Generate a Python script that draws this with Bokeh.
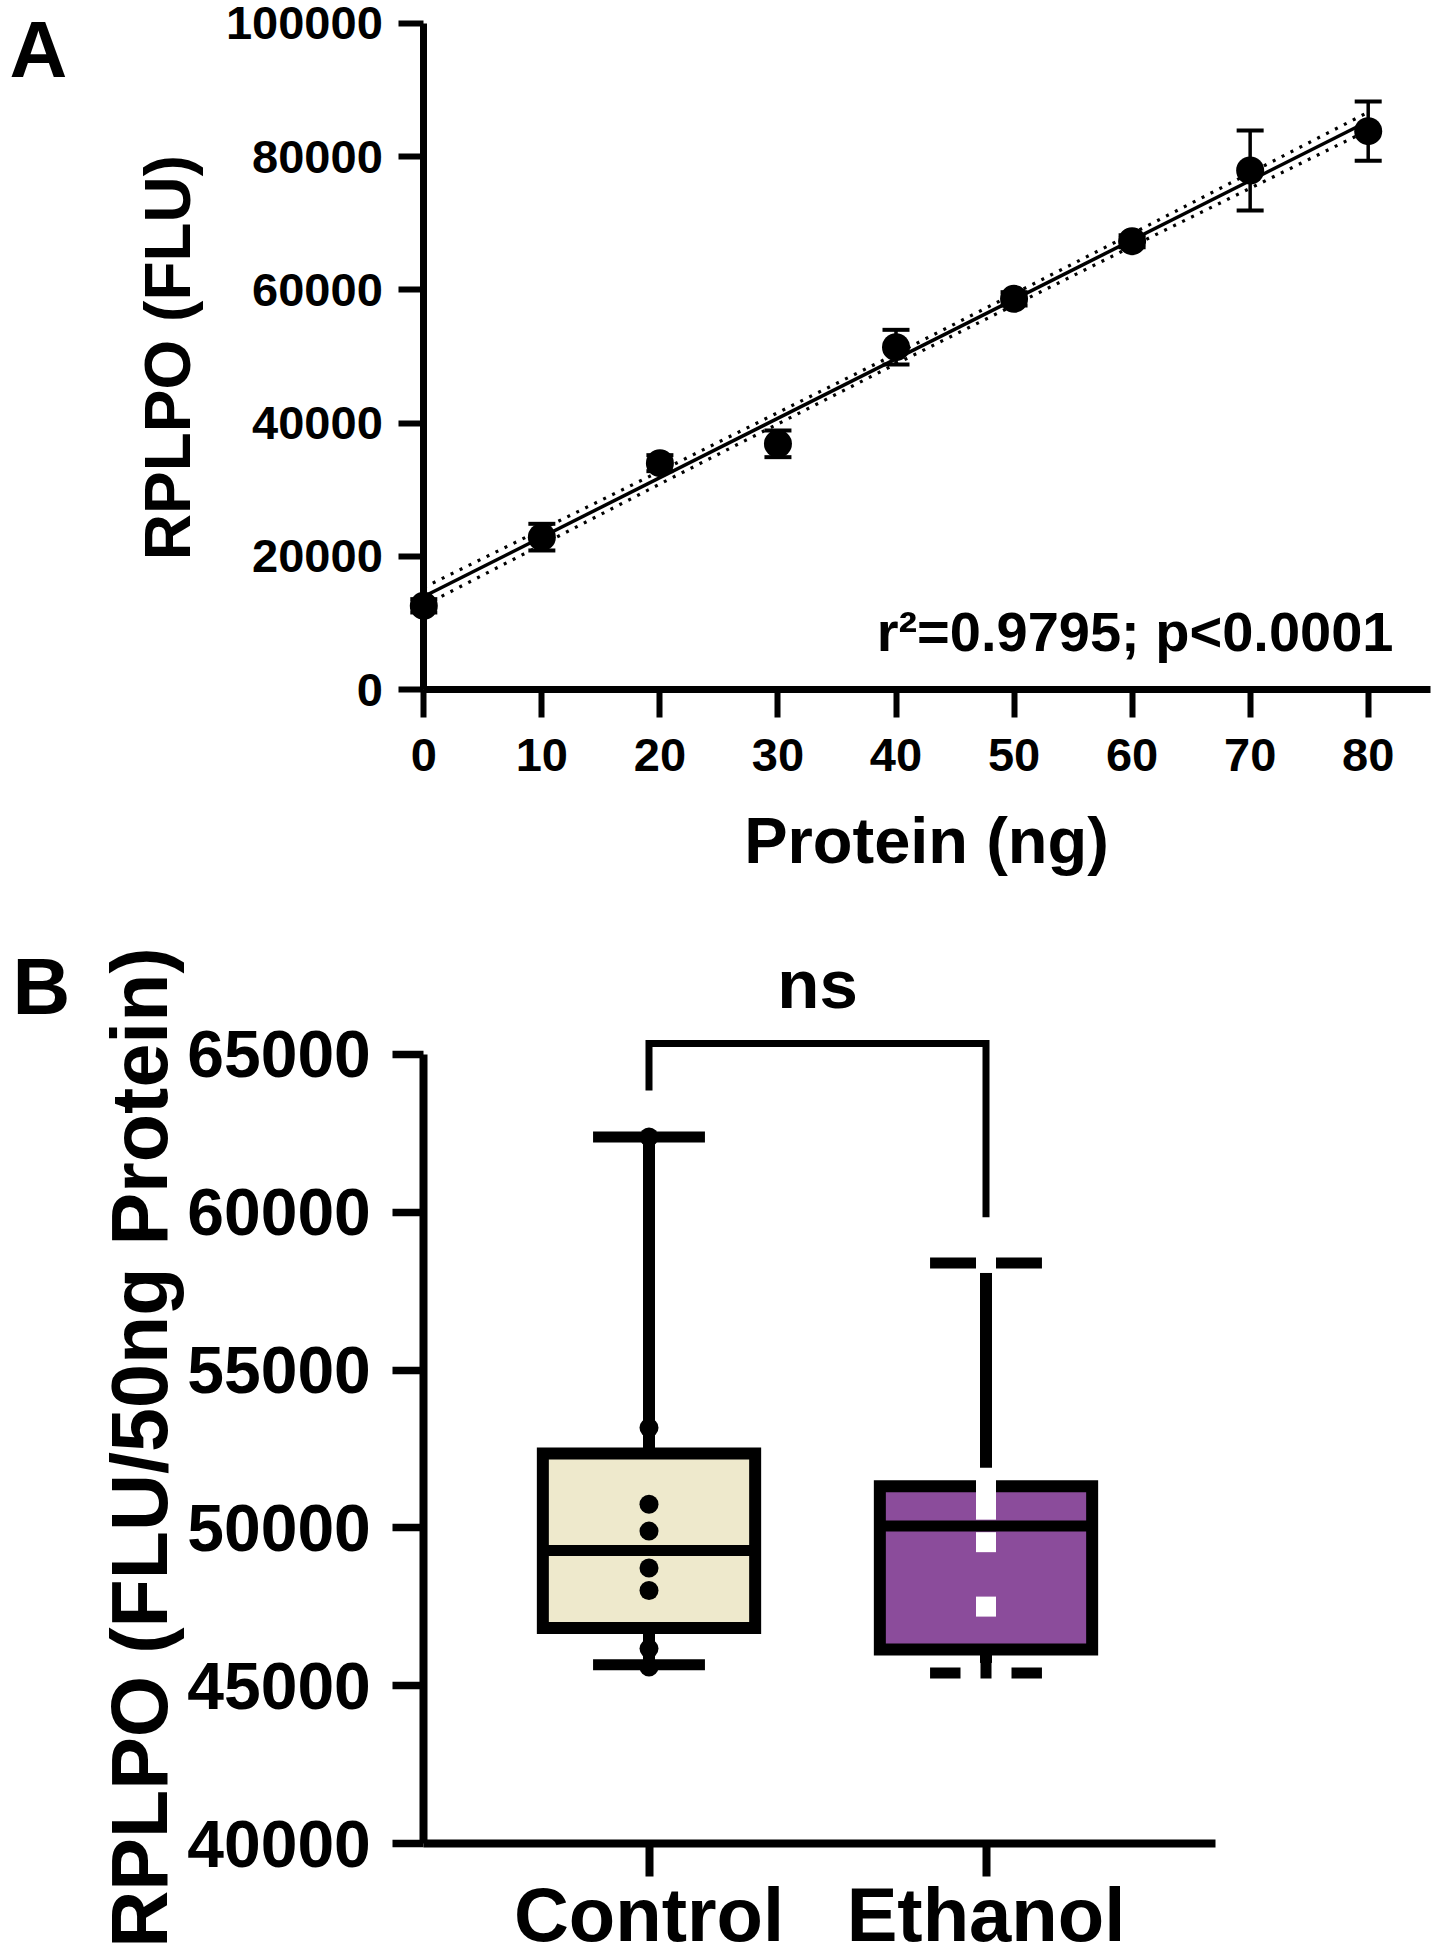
import math
from bokeh.plotting import figure
from bokeh.layouts import column
from bokeh.models import (Range1d, LinearAxis, FixedTicker, PrintfTickFormatter,
                          Label, Whisker, TeeHead, ColumnDataSource)
from bokeh.embed import file_html
from bokeh.resources import INLINE

# ---------------- Panel A data ----------------
protein_ng = [0, 10, 20, 30, 40, 50, 60, 70, 80]
rplpo_mean = [12600, 22900, 34000, 36900, 51400, 58650, 67300, 77900, 83800]
rplpo_sd = [1000, 2000, 1200, 2000, 2600, 1000, 900, 6000, 4450]
fit_x = [0, 80]
fit_y = [14000, 85300]
band_x = [0, 20, 40, 60, 80]
band_upper = [15350, 32780, 50400, 68430, 86650]
band_lower = [12650, 30880, 48900, 66530, 83950]
a_x_ticks = [0, 10, 20, 30, 40, 50, 60, 70, 80]
a_y_ticks = [0, 20000, 40000, 60000, 80000, 100000]
a_stats = "r\u00b2=0.9795; p<0.0001"

# ---------------- Panel B data ----------------
groups = ["Control", "Ethanol"]
group_pos = [1, 2]
box_q1 = [46830, 46150]
box_median = [49290, 50060]
box_q3 = [52360, 51320]
whisker_low = [45670, 45410]
whisker_high = [62380, 58390]
control_values = [62380, 53170, 50750, 49900, 48730, 48020, 46180, 45600]
ethanol_values = [58390, 51590, 51090, 50580, 49550, 47510, 45410, 45410]
ethanol_spread = [0, 0, 0, 0, 0, 0, -0.046, 0.046]
b_y_ticks = [40000, 45000, 50000, 55000, 60000, 65000]
bracket_top = 65340
bracket_left_end = 63850
bracket_right_end = 59840
sig_text = "ns"

# ---------------- styling / geometry ----------------
FONT = "Liberation Sans"
BLACK = "#000000"
BEIGE = "#EEE9CC"
PURPLE = "#8B4C9B"

PAGE = 0
W = 1437
HA = 900
HB = 1048
BASE_SHIFT = 0.34   # renderer places alphabetic baseline ~0.34 em below anchor

# panel A pixel mapping (page pixels)
A_X0, A_XS = 423.3, 11.805
A_Y0, A_YS = 689.3, 0.006666


def ax(px):
    return (px - A_X0) / A_XS


def ay(py):
    return (A_Y0 - py) / A_YS


# panel B pixel mapping (page pixels)
B_X1, B_XS = 648.5, 337.0
B_Y40, B_YS = 1843.3, 0.031584
B_TOP = PAGE + HA


def bx(px):
    return 1 + (px - B_X1) / B_XS


def by(py):
    return 40000 + (B_Y40 - py) / B_YS


def style_axis(axis, line_w, tick_w, tick_out, font_px, standoff):
    axis.axis_line_width = line_w
    axis.axis_line_color = BLACK
    axis.axis_line_cap = "butt"
    axis.major_tick_line_width = tick_w
    axis.major_tick_line_color = BLACK
    axis.major_tick_in = 0
    axis.major_tick_out = tick_out
    axis.minor_tick_in = 0
    axis.minor_tick_out = 0
    axis.minor_tick_line_color = None
    axis.major_label_text_font = FONT
    axis.major_label_text_font_style = "bold"
    axis.major_label_text_font_size = f"{font_px}px"
    axis.major_label_text_color = BLACK
    axis.major_label_standoff = standoff


def htext(p, fx, fy, px, base_py, text, size, align="left"):
    """horizontal text; base_py = wanted baseline (page px)"""
    p.add_layout(Label(x=fx(px), y=fy(base_py - BASE_SHIFT * size), text=text,
                       text_font=FONT, text_font_style="bold",
                       text_font_size=f"{size}px", text_color=BLACK,
                       text_align=align, text_baseline="alphabetic"))


def vtext(p, fx, fy, base_px, center_py, text, size):
    """text rotated 90deg; base_px = wanted baseline x (page px)"""
    p.add_layout(Label(x=fx(base_px - BASE_SHIFT * size), y=fy(center_py), text=text,
                       text_font=FONT, text_font_style="bold",
                       text_font_size=f"{size}px", text_color=BLACK,
                       text_align="center", text_baseline="alphabetic",
                       angle=math.pi / 2))


# ================= Panel A =================
pA = figure(width=W, height=HA, title=None,
            x_range=Range1d(ax(PAGE), ax(PAGE + W)),
            y_range=Range1d(ay(PAGE + HA), ay(PAGE)),
            x_axis_type=None, y_axis_type=None,
            toolbar_location=None, output_backend="svg", min_border=0)
pA.outline_line_color = None
pA.background_fill_color = "white"
pA.border_fill_color = "white"

ya = LinearAxis(fixed_location=0, bounds=(0, 100000),
                ticker=FixedTicker(ticks=a_y_ticks),
                formatter=PrintfTickFormatter(format="%d"))
style_axis(ya, 7, 6, 25, 47, 16)
pA.add_layout(ya, "left")

xa = LinearAxis(fixed_location=0, bounds=(0, ax(1430)),
                ticker=FixedTicker(ticks=a_x_ticks),
                formatter=PrintfTickFormatter(format="%d"))
style_axis(xa, 7, 6, 28, 47, 21)
pA.add_layout(xa, "below")

err_src = ColumnDataSource(dict(
    x=protein_ng,
    upper=[m + s for m, s in zip(rplpo_mean, rplpo_sd)],
    lower=[m - s for m, s in zip(rplpo_mean, rplpo_sd)],
))
pA.add_layout(Whisker(source=err_src, base="x", upper="upper", lower="lower",
                      line_width=3.5, line_color=BLACK,
                      upper_head=TeeHead(size=27, line_width=4, line_color=BLACK),
                      lower_head=TeeHead(size=27, line_width=4, line_color=BLACK)))

pA.line(band_x, band_upper, line_width=3.2, line_color=BLACK, line_dash="3 7")
pA.line(band_x, band_lower, line_width=3.2, line_color=BLACK, line_dash="3 7")
pA.line(fit_x, fit_y, line_width=3.5, line_color=BLACK)
pA.scatter(protein_ng, rplpo_mean, size=28, marker="circle",
           fill_color=BLACK, line_color=None)

htext(pA, ax, ay, 9, 76, "A", 80)
vtext(pA, ax, ay, 189, 357, "RPLPO (FLU)", 64)
htext(pA, ax, ay, 926, 862, "Protein (ng)", 65, align="center")
htext(pA, ax, ay, 1393, 650, a_stats, 56, align="right")

# ================= Panel B =================
pB = figure(width=W, height=HB, title=None,
            x_range=Range1d(bx(PAGE), bx(PAGE + W)),
            y_range=Range1d(by(B_TOP + HB), by(B_TOP)),
            x_axis_type=None, y_axis_type=None,
            toolbar_location=None, output_backend="svg", min_border=0)
pB.outline_line_color = None
pB.background_fill_color = "white"
pB.border_fill_color = "white"

yb = LinearAxis(fixed_location=bx(423.3), bounds=(40000, 65000),
                ticker=FixedTicker(ticks=b_y_ticks),
                formatter=PrintfTickFormatter(format="%d"))
style_axis(yb, 8, 7.5, 31, 66, 22)
pB.add_layout(yb, "left")

xb = LinearAxis(fixed_location=40000, bounds=(bx(423.3), bx(1214.5)),
                ticker=FixedTicker(ticks=group_pos),
                major_label_overrides={p: g for p, g in zip(group_pos, groups)})
style_axis(xb, 8, 8, 33, 76, -5)
pB.add_layout(xb, "below")

BOX_HALF = 0.315
CAP_HALF = 0.166

# whiskers
pB.segment(x0=group_pos, y0=box_q3, x1=group_pos, y1=whisker_high,
           line_width=12, line_color=BLACK)
pB.segment(x0=group_pos, y0=whisker_low, x1=group_pos, y1=box_q1,
           line_width=12, line_color=BLACK)
pB.segment(x0=[g - CAP_HALF for g in group_pos], y0=whisker_high,
           x1=[g + CAP_HALF for g in group_pos], y1=whisker_high,
           line_width=11, line_color=BLACK)
pB.segment(x0=[g - CAP_HALF for g in group_pos], y0=whisker_low,
           x1=[g + CAP_HALF for g in group_pos], y1=whisker_low,
           line_width=11, line_color=BLACK)
# boxes
pB.quad(left=[g - BOX_HALF for g in group_pos], right=[g + BOX_HALF for g in group_pos],
        bottom=box_q1, top=box_q3, fill_color=[BEIGE, PURPLE],
        line_color=BLACK, line_width=12, line_join="miter")
pB.segment(x0=[g - BOX_HALF for g in group_pos], y0=box_median,
           x1=[g + BOX_HALF for g in group_pos], y1=box_median,
           line_width=11, line_color=BLACK)
# individual values
pB.scatter([group_pos[0]] * len(control_values), control_values, size=19,
           marker="circle", fill_color=BLACK, line_color=None)
pB.scatter([group_pos[1] + s for s in ethanol_spread], ethanol_values, size=20,
           marker="square", fill_color="white", line_color=None)
# significance bracket
pB.line([group_pos[0], group_pos[0], group_pos[1], group_pos[1]],
        [bracket_left_end, bracket_top, bracket_top, bracket_right_end],
        line_width=7, line_color=BLACK, line_join="miter")

htext(pB, bx, by, 817, 1007, sig_text, 69, align="center")
htext(pB, bx, by, 12, 1013, "B", 80)
vtext(pB, bx, by, 166, 1447, "RPLPO (FLU/50ng Protein)", 79)

layout = column(pA, pB, spacing=0)
open("out.html", "w").write(file_html(layout, INLINE))
